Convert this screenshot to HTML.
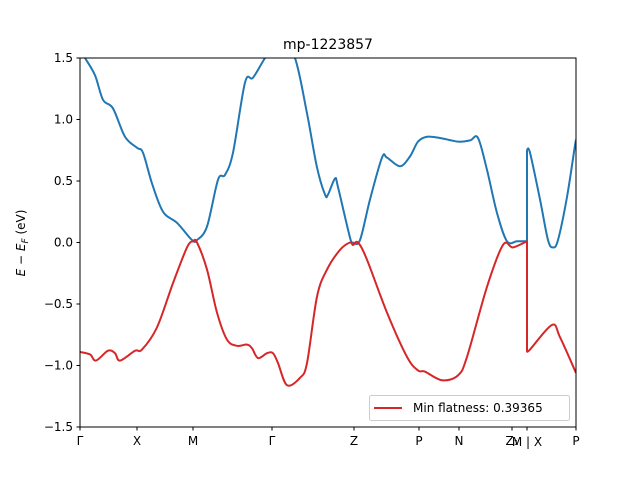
<!DOCTYPE html>
<html><head><meta charset="utf-8"><style>
body{margin:0;background:#fff;font-family:"Liberation Sans","DejaVu Sans",sans-serif}
svg text{font-family:"DejaVu Sans","Liberation Sans",sans-serif;font-size:12px;fill:#000}
</style></head><body>
<svg id="chart" width="640" height="480" viewBox="0 0 640 480" xmlns="http://www.w3.org/2000/svg"></svg>
<script>
const kTickLabels=["Γ","X","M","Γ","Z","P","N","Z₁","M | X","P"];
const kTickPos=[0,57,113,192,274,339,379,432,447,496];
const yTicks=[1.5,1.0,0.5,0.0,-0.5,-1.0,-1.5];
const blueK1=[0,5,15,23,33,45,57,63,72,83,97,112,117,127,138,145,153,165,173,185,200,215,227,237,245,248,255,258,270,273,280,290,302,307,320,330,338,347,360,378,390,398,407,417,427,437,447];
const blueE1=[1.56,1.5,1.36,1.16,1.09,0.86,0.77,0.73,0.48,0.25,0.16,0.02,0.02,0.13,0.51,0.55,0.73,1.30,1.34,1.5,1.68,1.5,1.05,0.61,0.39,0.39,0.52,0.45,0.04,0.0,0.02,0.35,0.69,0.69,0.62,0.7,0.82,0.86,0.85,0.82,0.83,0.85,0.59,0.24,0.01,0.01,0.01];
const blueK2=[447,450,460,468,473,478,487,495,496];
const blueE2=[0.75,0.73,0.35,0.02,-0.04,0.02,0.37,0.79,0.83];
const redK1=[0,10,16,28,35,40,55,62,77,93,107,113,117,127,137,147,157,167,172,178,187,193,198,207,220,227,237,247,260,270,273,278,287,307,327,338,345,362,378,387,407,423,433,447];
const redE1=[-0.89,-0.91,-0.96,-0.88,-0.9,-0.96,-0.88,-0.87,-0.69,-0.33,-0.04,0.01,0.0,-0.22,-0.57,-0.79,-0.84,-0.83,-0.86,-0.94,-0.9,-0.9,-0.98,-1.16,-1.1,-0.98,-0.44,-0.22,-0.06,0.0,-0.02,0.0,-0.14,-0.57,-0.93,-1.04,-1.05,-1.12,-1.08,-0.93,-0.36,-0.02,-0.04,0.01];
const redK2=[447,450,472,480,496];
const redE2=[-0.88,-0.87,-0.67,-0.77,-1.06];

const L=80,R=576,T=58,B=427;
const xs=k=>L+k/496*(R-L);
const ys=e=>T+(1.5-e)/3*(B-T);
const svg=document.getElementById('chart');
const NS='http://www.w3.org/2000/svg';
function mk(tag,attrs,parent){const el=document.createElementNS(NS,tag);for(const a in attrs)el.setAttribute(a,attrs[a]);(parent||svg).appendChild(el);return el;}
const defs=mk('defs',{});
const cp=mk('clipPath',{id:'clip'},defs);
mk('rect',{x:L,y:T,width:R-L,height:B-T},cp);
function curve(K,E){
  const p=K.map((k,i)=>[xs(k),ys(E[i])]);
  let d='M'+p[0][0]+','+p[0][1];
  for(let i=0;i<p.length-1;i++){
    const p0=p[i-1]||p[i],p1=p[i],p2=p[i+1],p3=p[i+2]||p2;
    const t=6;
    const c1=[p1[0]+(p2[0]-p0[0])/t,p1[1]+(p2[1]-p0[1])/t];
    const c2=[p2[0]-(p3[0]-p1[0])/t,p2[1]-(p3[1]-p1[1])/t];
    d+=` C${c1[0]},${c1[1]} ${c2[0]},${c2[1]} ${p2[0]},${p2[1]}`;
  }
  return d;
}
function seg(K1,E1,K2,E2,color,name){
  const d=curve(K1,E1)+` L${xs(K2[0])},${ys(E2[0])} `+curve(K2,E2).replace(/^M/,'L');
  const p=mk('path',{d:d,fill:'none',stroke:color,'stroke-width':2,'stroke-linejoin':'round'},g);
  return p;
}
const g=mk('g',{'clip-path':'url(#clip)'});
const b1=seg(blueK1,blueE1,blueK2,blueE2,'#1f77b4');


const r1=seg(redK1,redE1,redK2,redE2,'#d62728');


const frame=mk('rect',{x:L,y:T,width:R-L,height:B-T,fill:'none',stroke:'#000','stroke-width':1});


yTicks.forEach(v=>{
  const y=ys(v);
  mk('line',{x1:L-3.5,x2:L,y1:y,y2:y,stroke:'#000'});
  const t=mk('text',{x:L-7,y:y+4,'text-anchor':'end'});
  t.textContent=v.toFixed(1).replace('-','−');
  
  
});
kTickPos.forEach((k,i)=>{
  const x=xs(k);
  mk('line',{x1:x,x2:x,y1:B,y2:B+3.5,stroke:'#000'});
  const t=mk('text',{x:x,y:B+18+(i===8?1:0),'text-anchor':'middle'});
  t.textContent=kTickLabels[i];
  
  
});
const title=mk('text',{x:328,y:49,'text-anchor':'middle'});
title.textContent='mp-1223857';title.style.fontSize='14px';


const yl=mk('text',{x:25,y:243,'text-anchor':'middle',transform:'rotate(-90 25 243)'});
yl.innerHTML='<tspan font-style="italic">E</tspan> − <tspan font-style="italic">E</tspan><tspan font-style="italic" font-size="9" dy="3">F</tspan><tspan dy="-3"> (eV)</tspan>';


const lg=mk('g',{});


mk('rect',{x:369.5,y:395.5,width:200,height:25,rx:2,fill:'#fff','fill-opacity':0.8,stroke:'#ccc'},lg);
mk('line',{x1:374,x2:402,y1:408,y2:408,stroke:'#d62728','stroke-width':2},lg);
const lt=mk('text',{x:413,y:412},lg);
lt.textContent='Min flatness: 0.39365';


</script>
</body></html>
